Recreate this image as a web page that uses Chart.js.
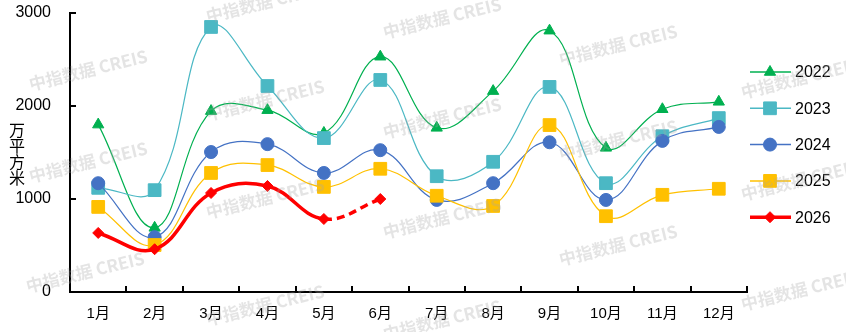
<!DOCTYPE html>
<html lang="zh">
<head>
  <meta charset="UTF-8">
  <title>月度成交面积</title>
  <script src="https://cdn.jsdelivr.net/npm/chart.js"></script>
  <style>
    body { margin: 0; background: #fff; }
  </style>
</head>
<body>
  <canvas id="areaChart" width="846" height="332"></canvas>

  <script>
    const months = ['1月', '2月', '3月', '4月', '5月', '6月', '7月', '8月', '9月', '10月', '11月', '12月'];
    const s2022 = [1800, 690, 1945, 1955, 1710, 2530, 1765, 2160, 2810, 1550, 1965, 2045];
    const s2023 = [1120, 1095, 2850, 2215, 1655, 2280, 1245, 1400, 2205, 1170, 1675, 1870];
    const s2024 = [1170, 590, 1505, 1590, 1280, 1525, 990, 1170, 1610, 990, 1625, 1775];
    const s2025 = [915, 505, 1280, 1365, 1130, 1325, 1035, 925, 1795, 815, 1045, 1110];
    const s2026 = [635, 460, 1065, 1140, 785, 1000, null, null, null, null, null, null];
    const yTicks = [0, 1000, 2000, 3000];
    const yTitle = '万平方米';
    const watermark = '中指数据 CREIS';

    const FONT = '"Liberation Sans", Arial, "Noto Sans CJK SC", sans-serif';

    function line(label, data, color, style, radius, width, order) {
      return {
        label, data, order,
        borderColor: color,
        backgroundColor: color,
        borderWidth: width,
        tension: 0.4,
        pointStyle: style,
        pointRadius: radius,
        pointBorderWidth: 1,
        pointBackgroundColor: color,
        pointBorderColor: color,
        spanGaps: false
      };
    }

    const ds2026 = line('2026', s2026, '#FF0000', 'rectRot', 5.5, 3.5, 0);
    // last known month is a forecast -> dashed
    ds2026.segment = { borderDash: c => c.p0DataIndex >= 4 ? [8, 5] : undefined };

    const datasets = [
      line('2022', s2022, '#00B050', 'triangle', 6.5, 1.2, 4),
      line('2023', s2023, '#4BB8C4', 'rect', 9, 1.2, 3),
      line('2024', s2024, '#4472C4', 'circle', 6.5, 1.2, 2),
      line('2025', s2025, '#FFC000', 'rect', 9, 1.2, 1),
      ds2026
    ];

    // ticks, axis title, legend and watermark
    const decor = {
      id: 'decor',
      afterDraw(chart) {
        const { ctx, chartArea: a, scales: { y } } = chart;
        ctx.save();

        ctx.strokeStyle = '#000';
        ctx.lineWidth = 2;
        yTicks.forEach(v => {
          const py = Math.round(y.getPixelForValue(v));
          ctx.beginPath();
          ctx.moveTo(a.left, py);
          ctx.lineTo(a.left + 6, py);
          ctx.stroke();
        });
        const w = (a.right - a.left) / months.length;
        for (let i = 1; i <= months.length; i++) {
          const px = Math.round(a.left + i * w);
          ctx.beginPath();
          ctx.moveTo(px, a.bottom);
          ctx.lineTo(px, a.bottom - 6);
          ctx.stroke();
        }

        ctx.fillStyle = '#000';
        ctx.font = '16px "Noto Sans CJK SC", sans-serif';
        ctx.textAlign = 'center';
        ctx.textBaseline = 'middle';
        [...yTitle].forEach((ch, i) => ctx.fillText(ch, 17, 130 + i * 16));

        // legend
        chart.data.datasets.forEach((d, i) => {
          const ly = 72 + i * 36.3;
          ctx.strokeStyle = d.borderColor;
          ctx.lineWidth = d.borderWidth < 2 ? 1.5 : 3.5;
          ctx.setLineDash([]);
          ctx.beginPath();
          ctx.moveTo(750, ly);
          ctx.lineTo(791, ly);
          ctx.stroke();
          ctx.fillStyle = d.borderColor;
          ctx.lineWidth = 1;
          Chart.helpers.drawPoint(ctx, { pointStyle: d.pointStyle, radius: d.pointRadius, rotation: 0, borderWidth: 1 }, 770, ly);
          ctx.fillStyle = '#000';
          ctx.font = '16px ' + FONT;
          ctx.textAlign = 'left';
          ctx.fillText(d.label, 795, ly + 1);
        });

        // watermark on top
        const marks = [
          [88, 70], [88, 162], [85, 272],
          [265, 2], [265, 100], [265, 198], [265, 305],
          [442, 18], [442, 118], [442, 218], [442, 320],
          [618, 45], [618, 140], [618, 245],
          [800, 78], [800, 180], [800, 290]
        ];
        ctx.fillStyle = 'rgba(165,165,165,0.3)';
        ctx.font = 'bold 17px "Noto Sans CJK SC", sans-serif';
        ctx.textAlign = 'center';
        marks.forEach(([mx, my]) => {
          ctx.save();
          ctx.translate(mx, my);
          ctx.rotate(-0.24);
          ctx.fillText(watermark, 0, 0);
          ctx.restore();
        });
        ctx.restore();
      }
    };

    new Chart(document.getElementById('areaChart'), {
      type: 'line',
      data: { labels: months, datasets },
      options: {
        responsive: false,
        animation: false,
        layout: { padding: { top: 13, right: 99, left: 0, bottom: 0 } },
        plugins: { legend: { display: false }, tooltip: { enabled: false } },
        scales: {
          x: {
            offset: true,
            grid: { display: false },
            border: { display: true, color: '#000', width: 2 },
            ticks: { color: '#000', font: { family: FONT, size: 15 }, padding: 5, maxRotation: 0, autoSkip: false },
            afterFit(s) { s.height = 40; s.paddingLeft = 0; s.paddingRight = 0; }
          },
          y: {
            min: 0, max: 3000,
            grid: { display: false },
            border: { display: true, color: '#000', width: 2 },
            ticks: { stepSize: 1000, color: '#000', font: { family: FONT, size: 16 }, padding: 11, callback: v => String(v) },
            afterFit(s) { s.width = 70; s.paddingTop = 0; s.paddingBottom = 0; }
          }
        }
      },
      plugins: [decor]
    });
  </script>
</body>
</html>
